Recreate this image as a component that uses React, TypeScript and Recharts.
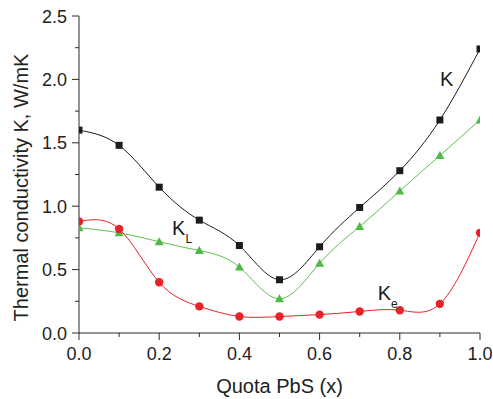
import React from "react";
import { LineChart, Line, XAxis, YAxis, ReferenceDot } from "recharts";

const quota = [0, 0.1, 0.2, 0.3, 0.4, 0.5, 0.6, 0.7, 0.8, 0.9, 1.0];
const kTotal = [1.6, 1.48, 1.15, 0.89, 0.69, 0.42, 0.68, 0.99, 1.28, 1.68, 2.24];
const kLattice = [0.83, 0.79, 0.72, 0.65, 0.52, 0.27, 0.55, 0.84, 1.12, 1.4, 1.68];
const kElectron = [0.88, 0.82, 0.4, 0.21, 0.13, 0.13, 0.145, 0.17, 0.18, 0.23, 0.79];

const xTicks = [0, 0.1, 0.2, 0.3, 0.4, 0.5, 0.6, 0.7, 0.8, 0.9, 1.0];
const yTicks = [0, 0.25, 0.5, 0.75, 1.0, 1.25, 1.5, 1.75, 2.0, 2.25, 2.5];

// curve labels, placed in data coordinates
const labelX = [0.9, 0.232, 0.745];
const labelY = [1.95, 0.775, 0.26];
const labelMain = ["K", "K", "K"];
const labelSub = ["", "L", "e"];

const FONT = "'Liberation Sans', Arial, sans-serif";
const AXIS = "#2a2a2a";

const data = quota.map((x, i) => ({
  x,
  k: kTotal[i],
  kl: kLattice[i],
  ke: kElectron[i],
}));

const fmt = (v: number) => v.toFixed(1);

const XTick = (props: any) => {
  const { x, y, payload } = props;
  const major = Math.round(payload.value * 10) % 2 === 0;
  const axisY = y - 13;
  return (
    <g>
      <line x1={x} x2={x} y1={axisY} y2={axisY + (major ? 7 : 4)} stroke={AXIS} strokeWidth={1} />
      {major && (
        <text x={x} y={axisY + 27} textAnchor="middle" fontSize={18} fontFamily={FONT} fill="#222">
          {fmt(payload.value)}
        </text>
      )}
    </g>
  );
};

const YTick = (props: any) => {
  const { x, y, payload } = props;
  const major = Math.round(payload.value * 4) % 2 === 0;
  const axisX = x + 12;
  return (
    <g>
      <line x1={axisX - (major ? 7 : 4)} x2={axisX} y1={y} y2={y} stroke={AXIS} strokeWidth={1} />
      {major && (
        <text x={x} y={y + 6.5} textAnchor="end" fontSize={18} fontFamily={FONT} fill="#222">
          {fmt(payload.value)}
        </text>
      )}
    </g>
  );
};

const Square = (props: any) => {
  const { cx, cy, index } = props;
  return <rect key={`s${index}`} x={cx - 3.5} y={cy - 3.5} width={7} height={7} fill="#1c1c1c" />;
};

const Triangle = (props: any) => {
  const { cx, cy, index } = props;
  return (
    <polygon
      key={`t${index}`}
      points={`${cx},${cy - 4.5} ${cx + 4.5},${cy + 3.5} ${cx - 4.5},${cy + 3.5}`}
      fill="#4fb848"
    />
  );
};

const Circle = (props: any) => {
  const { cx, cy, index } = props;
  return <circle key={`c${index}`} cx={cx} cy={cy} r={4.2} fill="#e8212b" />;
};

const CurveLabel = (main: string, sub: string) => (props: any) => {
  const { viewBox } = props;
  return (
    <text x={viewBox.x} y={viewBox.y} fontSize={20} fontFamily={FONT} fill="#1a1a1a">
      {main}
      {sub && (
        <tspan fontSize={12} dy={8}>
          {sub}
        </tspan>
      )}
    </text>
  );
};

const XTitle = (props: any) => {
  const { viewBox } = props;
  return (
    <text x={viewBox.x + viewBox.width / 2} y={viewBox.y + 60} textAnchor="middle" fontSize={20} fontFamily={FONT} fill="#222">
      Quota PbS (x)
    </text>
  );
};

const YTitle = (props: any) => {
  const { viewBox } = props;
  const cx = 28;
  const cy = viewBox.y + viewBox.height / 2 + 13;
  return (
    <text
      x={cx}
      y={cy}
      textAnchor="middle"
      fontSize={20}
      fontFamily={FONT}
      fill="#222"
      transform={`rotate(-90 ${cx} ${cy})`}
    >
      Thermal conductivity K, W/mK
    </text>
  );
};

export default function App() {
  return (
    <div style={{ position: "absolute", left: 0, top: 0, background: "#fff" }}>
      <LineChart width={493} height={399} data={data} margin={{ top: 16, right: 13, bottom: 0, left: 0 }}>
        <XAxis
          dataKey="x"
          type="number"
          domain={[0, 1]}
          ticks={xTicks}
          interval={0}
          allowDataOverflow
          height={66}
          tickSize={7}
          tickMargin={6}
          tickLine={false}
          axisLine={{ stroke: AXIS, strokeWidth: 1 }}
          tick={<XTick />}
          label={<XTitle />}
        />
        <YAxis
          type="number"
          domain={[0, 2.5]}
          ticks={yTicks}
          interval={0}
          allowDataOverflow
          width={79}
          tickSize={7}
          tickMargin={5}
          tickLine={false}
          axisLine={{ stroke: AXIS, strokeWidth: 1 }}
          tick={<YTick />}
          label={<YTitle />}
        />
        <Line type="natural" dataKey="k" stroke="#1c1c1c" strokeWidth={1} dot={Square} activeDot={false} isAnimationActive={false} />
        <Line type="natural" dataKey="kl" stroke="#5cbf4e" strokeWidth={1} dot={Triangle} activeDot={false} isAnimationActive={false} />
        <Line type="natural" dataKey="ke" stroke="#e8212b" strokeWidth={1} dot={Circle} activeDot={false} isAnimationActive={false} />
        {labelX.map((lx, i) => (
          <ReferenceDot
            key={i}
            x={lx}
            y={labelY[i]}
            r={0}
            fill="none"
            stroke="none"
            label={CurveLabel(labelMain[i], labelSub[i])}
          />
        ))}
      </LineChart>
    </div>
  );
}
